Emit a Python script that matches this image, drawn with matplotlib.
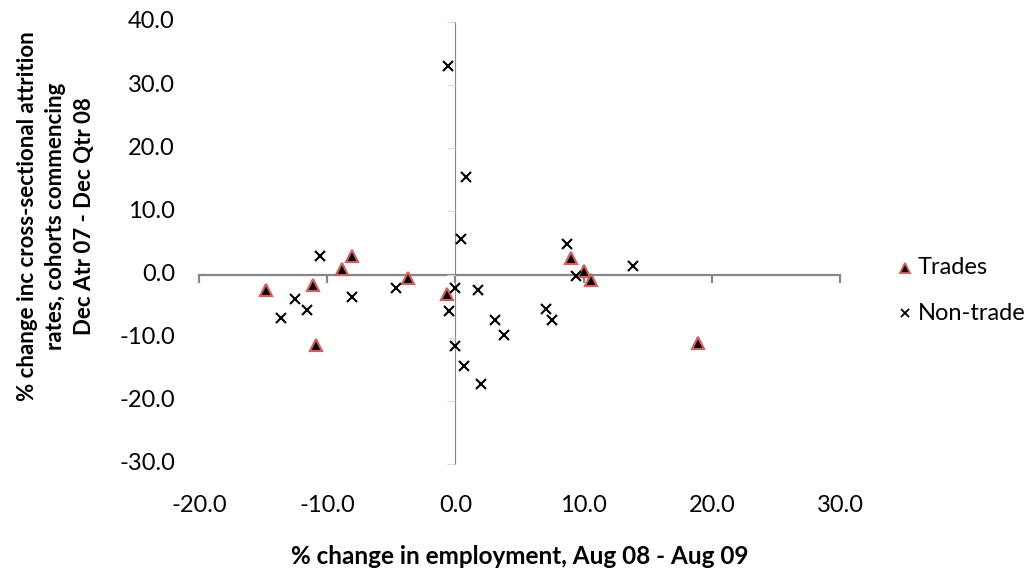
import matplotlib
matplotlib.use('Agg')
import matplotlib.pyplot as plt
import matplotlib.transforms as mtransforms

# Data
trades_x = [-14.8, -11.1, -10.9, -8.85, -8.1, -3.7, -0.65, 9.0, 10.0, 10.6, 18.9]
trades_y = [-2.5, -1.7, -11.1, 0.9, 2.9, -0.5, -3.0, 2.7, 0.6, -0.9, -10.8]

nontrade_x = [-13.6, -12.5, -11.6, -10.6, -8.1, -4.6, -0.6, -0.5, 0.0, 0.0, 0.45,
              0.7, 0.8, 1.8, 2.0, 3.05, 3.8, 7.1, 7.5, 8.7, 9.4, 13.85]
nontrade_y = [-6.8, -3.9, -5.6, 3.0, -3.5, -2.2, 33.0, -5.8, -2.1, -11.3, 5.65,
              -14.5, 15.4, -2.4, -17.3, -7.2, -9.5, -5.4, -7.2, 4.9, -0.3, 1.3]

x_ticks = [-20, -10, 0, 10, 20, 30]
y_ticks = [-30, -20, -10, 0, 10, 20, 30, 40]

x_label = "% change in employment, Aug 08 - Aug 09"
y_label = "% change inc cross-sectional attrition\nrates, cohorts commencing\nDec Atr 07 - Dec Qtr 08"
series_names = ["Trades", "Non-trade"]

FONT = ['Lato', 'DejaVu Sans']
plt.rcParams['font.family'] = FONT

W, H = 1031, 570
fig = plt.figure(figsize=(W / 100, H / 100), dpi=100)
ax = fig.add_axes([199 / W, 106 / H, 641 / W, 442 / H])
ax.set_xlim(x_ticks[0], x_ticks[-1])
ax.set_ylim(y_ticks[0], y_ticks[-1])
ax.patch.set_alpha(0)

for s in ['top', 'right']:
    ax.spines[s].set_visible(False)
ax.spines['left'].set_position(('data', 0))
ax.spines['bottom'].set_position(('data', 0))
ax.spines['bottom'].set_color('#868686')
ax.spines['bottom'].set_linewidth(1.6)
ax.spines['left'].set_color('#868686')
ax.spines['left'].set_linewidth(0.8)
ax.spines['bottom'].set_zorder(1)
ax.spines['left'].set_zorder(1)

ax.set_xticks(x_ticks)
ax.set_yticks(y_ticks)
ax.tick_params(axis='x', direction='out', length=6, width=1.6, color='#868686',
               labelbottom=False)
ax.tick_params(axis='y', direction='out', length=6, width=0.8, color='#d9d9d9',
               labelleft=False)

tick_fs = 17
tx = mtransforms.blended_transform_factory(ax.transData, fig.transFigure)
for v in x_ticks:
    ax.text(v, (H - 506) / H, f"{v:.1f}", transform=tx, ha='center', va='center',
            fontsize=tick_fs, color='#000000')
ty = mtransforms.blended_transform_factory(fig.transFigure, ax.transData)
for v in y_ticks:
    ax.text(175 / W, v, f"{v:.1f}", transform=ty, ha='right', va='center',
            fontsize=tick_fs, color='#000000')

ax.plot(trades_x, trades_y, linestyle='none', marker='^', markersize=8.5,
        markerfacecolor='black', markeredgecolor='#d0605d', markeredgewidth=1.6,
        zorder=3, clip_on=False)
ax.plot(nontrade_x, nontrade_y, linestyle='none', marker='x', markersize=6.5,
        color='black', markeredgewidth=1.5, zorder=3, clip_on=False)

fig.text(519.5 / W, (H - 556) / H, x_label, ha='center', va='center',
         fontsize=17.5, fontweight='bold')
fig.text(56 / W, (H - 216) / H, y_label, ha='center', va='center', rotation=90,
         fontsize=16, fontweight='bold', linespacing=1.45, multialignment='center')

# legend
fig.lines.append(plt.Line2D([905 / W], [(H - 268) / H], transform=fig.transFigure,
                            marker='^', markersize=7.5, markerfacecolor='black',
                            markeredgecolor='#d0605d', markeredgewidth=1.4,
                            linestyle='none'))
fig.lines.append(plt.Line2D([905 / W], [(H - 313) / H], transform=fig.transFigure,
                            marker='x', markersize=5.5, color='black',
                            markeredgewidth=1.3, linestyle='none'))
fig.text(918 / W, (H - 268) / H, series_names[0], ha='left', va='center', fontsize=tick_fs)
fig.text(918 / W, (H - 313) / H, series_names[1], ha='left', va='center', fontsize=tick_fs)

fig.savefig('out.png', dpi=100)
